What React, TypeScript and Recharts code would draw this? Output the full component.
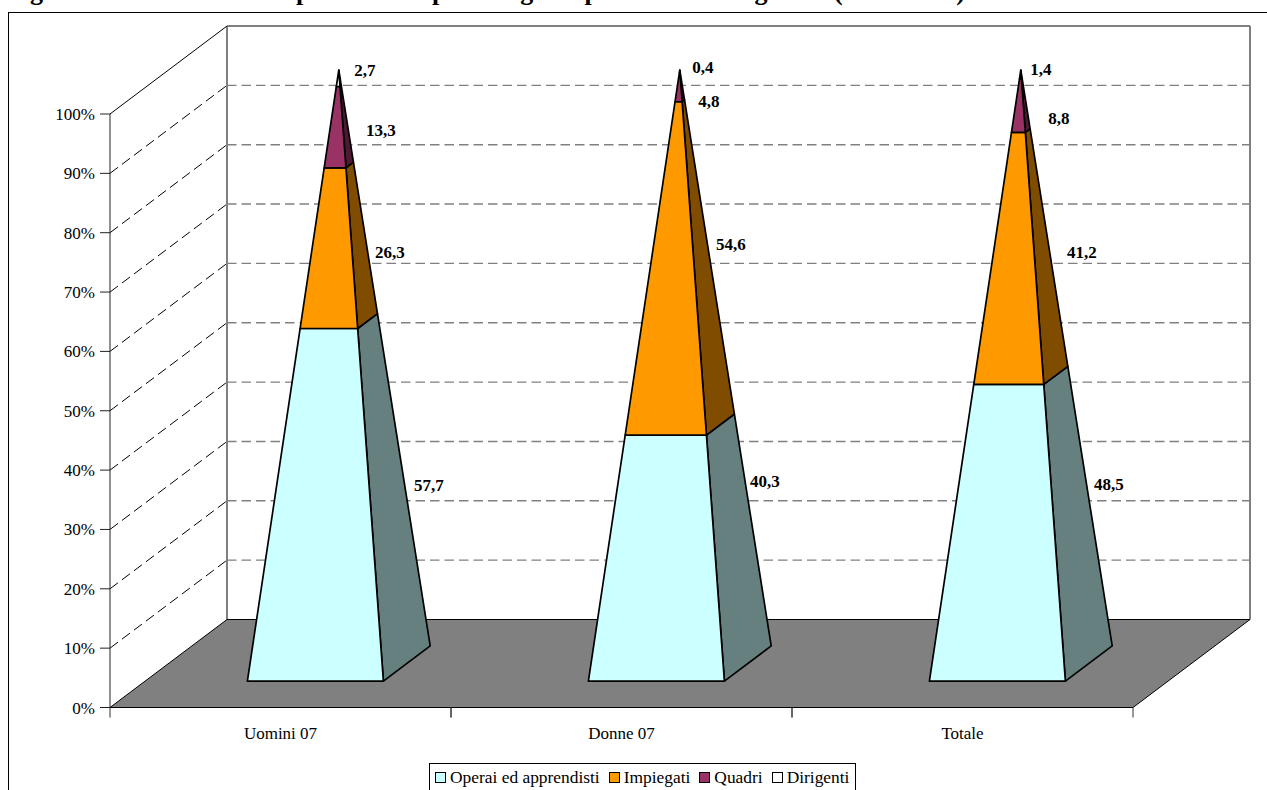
import { BarChart, Bar, XAxis, YAxis, CartesianGrid, Legend, LabelList } from 'recharts';

const categories = ['Uomini 07', 'Donne 07', 'Totale'];
const operai = [57.7, 40.3, 48.5];
const impiegati = [26.3, 54.6, 41.2];
const quadri = [13.3, 4.8, 8.8];
const dirigenti = [2.7, 0.4, 1.4];
const yTicks = [0, 0.1, 0.2, 0.3, 0.4, 0.5, 0.6, 0.7, 0.8, 0.9, 1];

const chartData = categories.map((name, i) => ({
  name,
  operai: operai[i],
  impiegati: impiegati[i],
  quadri: quadri[i],
  dirigenti: dirigenti[i],
}));

const FONT = '"Liberation Serif", "Times New Roman", serif';
const WIDTH = 1267;
const HEIGHT = 790;
const LEFT = 110;
const RIGHT = 1133;
const TOP = 114;
const BOTTOM = 707.5;
const PLOT_H = BOTTOM - TOP;
const BAND = (RIGHT - LEFT) / categories.length;

// oblique projection of the floor depth
const WALL_DX = 117;
const WALL_DY = 88;
const BAR_DEPTH = 0.4;

// data labels sit away from the pyramids, offset from the middle of each slice
const operaiOffsets = [[90, -7], [85, -63], [88, -35]];
const impiegatiOffsets = [[51, 9], [51, -18], [61, 0]];
const quadriOffsets = [[42, 5], [29, 15], [38, 14]];
const dirigentiOffsets = [[26, -8], [23, -4], [20, -5]];

function wallLine(props: any) {
  const { y1, index } = props;
  const y = y1;
  const isFloor = Math.abs(y - BOTTOM) < 1;
  const isTop = Math.abs(y - TOP) < 1;
  const backY = y - WALL_DY;
  const backL = LEFT + WALL_DX;
  const backR = RIGHT + WALL_DX;
  if (isFloor) {
    return (
      <g key={`wall-${index}`}>
        <line x1={backL} y1={TOP - WALL_DY} x2={backL} y2={backY} stroke="#000" strokeWidth={1} />
        <line x1={backR} y1={TOP - WALL_DY} x2={backR} y2={backY} stroke="#000" strokeWidth={1} />
        <polygon
          points={`${LEFT},${BOTTOM} ${backL},${backY} ${backR},${backY} ${RIGHT},${BOTTOM}`}
          fill="#808080"
          stroke="#000"
          strokeWidth={1}
        />
      </g>
    );
  }
  return (
    <g key={`wall-${index}`}>
      {isTop && <line x1={backL} y1={backY} x2={backR} y2={backY} stroke="#000" strokeWidth={1} />}
      <line
        x1={LEFT}
        y1={y}
        x2={backL}
        y2={backY}
        stroke="#000"
        strokeWidth={1}
        strokeDasharray={isTop ? undefined : '10 5'}
      />
      <line x1={backL} y1={backY} x2={backR} y2={backY} stroke="#808080" strokeWidth={1.4} strokeDasharray="9.5 5" />
    </g>
  );
}

// one slice of a pyramid, front face plus the visible right side
function PyramidSlice(props: any) {
  const { x, y, width, height, fill, side } = props;
  const depthX = WALL_DX * BAR_DEPTH;
  const depthY = WALL_DY * BAR_DEPTH;
  const cx = x + width / 2 + WALL_DX / 2;
  const t0 = (BOTTOM - (y + height)) / PLOT_H;
  const t1 = (BOTTOM - y) / PLOT_H;

  const at = (t: number) => {
    const s = 1 - Math.min(t, 1);
    const level = BOTTOM - WALL_DY / 2 - t * PLOT_H;
    return {
      frontL: `${cx - (width / 2 + depthX / 2) * s},${level + (depthY / 2) * s}`,
      frontR: `${cx + (width / 2 - depthX / 2) * s},${level + (depthY / 2) * s}`,
      backR: `${cx + (width / 2 + depthX / 2) * s},${level - (depthY / 2) * s}`,
    };
  };
  const lo = at(t0);
  const hi = at(t1);
  return (
    <g stroke="#000" strokeWidth={1.7} strokeLinejoin="round">
      <polygon points={`${lo.frontR} ${lo.backR} ${hi.backR} ${hi.frontR}`} fill={side} />
      <polygon points={`${lo.frontL} ${lo.frontR} ${hi.frontR} ${hi.frontL}`} fill={fill} />
    </g>
  );
}

const sliceLabel = (offsets: number[][]) => (props: any) => {
  const { x, y, width, height, value, index } = props;
  const [dx, dy] = offsets[index];
  const cx = x + width / 2 + WALL_DX / 2;
  const cy = y + height / 2 - WALL_DY / 2;
  return (
    <text
      x={cx + dx}
      y={cy + dy}
      textAnchor="middle"
      dominantBaseline="central"
      fontFamily={FONT}
      fontSize={17}
      fontWeight="bold"
      fill="#000"
    >
      {String(value).replace('.', ',')}
    </text>
  );
};

function CategoryTick(props: any) {
  const { x, y, payload } = props;
  return (
    <g>
      <line x1={x - BAND / 2} y1={BOTTOM} x2={x - BAND / 2} y2={BOTTOM + 10} stroke="#333" />
      <line x1={x + BAND / 2} y1={BOTTOM} x2={x + BAND / 2} y2={BOTTOM + 10} stroke="#333" />
      <text x={x} y={y + 23} textAnchor="middle" fontFamily={FONT} fontSize={17} fill="#000">
        {payload.value}
      </text>
    </g>
  );
}

function LegendBox({ payload }: any) {
  return (
    <div
      style={{
        display: 'flex',
        alignItems: 'center',
        gap: 9,
        height: 36,
        boxSizing: 'border-box',
        border: '1px solid #000',
        padding: '0 6px 7px 5px',
        background: '#fff',
        fontFamily: FONT,
        fontSize: 17.4,
        color: '#000',
        whiteSpace: 'nowrap',
      }}
    >
      {payload.map((item: any) => (
        <span key={item.value} style={{ display: 'flex', alignItems: 'center', gap: 4 }}>
          <span
            style={{
              width: 11,
              height: 11,
              boxSizing: 'border-box',
              border: '1.5px solid #000',
              background: item.color,
              display: 'inline-block',
            }}
          />
          {item.value}
        </span>
      ))}
    </div>
  );
}

export default function App() {
  return (
    <div style={{ position: 'absolute', left: 0, top: 0, width: WIDTH, height: HEIGHT, overflow: 'hidden', background: '#fff' }}>
      <div
        style={{
          position: 'absolute',
          left: 7,
          top: -23,
          fontFamily: FONT,
          fontSize: 26,
          fontWeight: 'bold',
          whiteSpace: 'nowrap',
          color: '#000',
        }}
      >
        Figura 11 – Distribuzione percentuale per categoria professionale e genere (anno 2007)
      </div>
      <div style={{ position: 'absolute', left: 8, top: 12, width: 1300, height: 900, border: '1.5px solid #000', boxSizing: 'border-box' }} />
      <BarChart
        width={WIDTH}
        height={HEIGHT}
        data={chartData}
        stackOffset="expand"
        barCategoryGap="30%"
        margin={{ top: TOP, right: WIDTH - RIGHT, bottom: 0, left: 0 }}
        style={{ position: 'absolute', left: 0, top: 0 }}
      >
        <CartesianGrid horizontal={wallLine} vertical={false} />
        <XAxis
          dataKey="name"
          height={HEIGHT - BOTTOM}
          axisLine={false}
          tickLine={false}
          interval={0}
          tick={<CategoryTick />}
        />
        <YAxis
          width={LEFT}
          domain={[0, 1]}
          ticks={yTicks}
          tickFormatter={(v) => `${Math.round(v * 100)}%`}
          stroke="#222"
          tickSize={10}
          tickMargin={5}
          tick={{ fontFamily: FONT, fontSize: 17, fill: '#000' }}
        />
        <Legend
          layout="horizontal"
          verticalAlign="middle"
          itemSorter={null}
          content={<LegendBox />}
          wrapperStyle={{ position: 'absolute', left: 429, top: 763, width: 427, bottom: 'auto' }}
        />
        <Bar dataKey="operai" name="Operai ed apprendisti" stackId="a" fill="#CCFFFF" isAnimationActive={false} shape={<PyramidSlice side="#668080" />}>
          <LabelList dataKey="operai" content={sliceLabel(operaiOffsets)} />
        </Bar>
        <Bar dataKey="impiegati" name="Impiegati" stackId="a" fill="#FF9900" isAnimationActive={false} shape={<PyramidSlice side="#804D00" />}>
          <LabelList dataKey="impiegati" content={sliceLabel(impiegatiOffsets)} />
        </Bar>
        <Bar dataKey="quadri" name="Quadri" stackId="a" fill="#993366" isAnimationActive={false} shape={<PyramidSlice side="#4D1A33" />}>
          <LabelList dataKey="quadri" content={sliceLabel(quadriOffsets)} />
        </Bar>
        <Bar dataKey="dirigenti" name="Dirigenti" stackId="a" fill="#FFFFFF" isAnimationActive={false} shape={<PyramidSlice side="#808080" />}>
          <LabelList dataKey="dirigenti" content={sliceLabel(dirigentiOffsets)} />
        </Bar>
      </BarChart>
    </div>
  );
}
